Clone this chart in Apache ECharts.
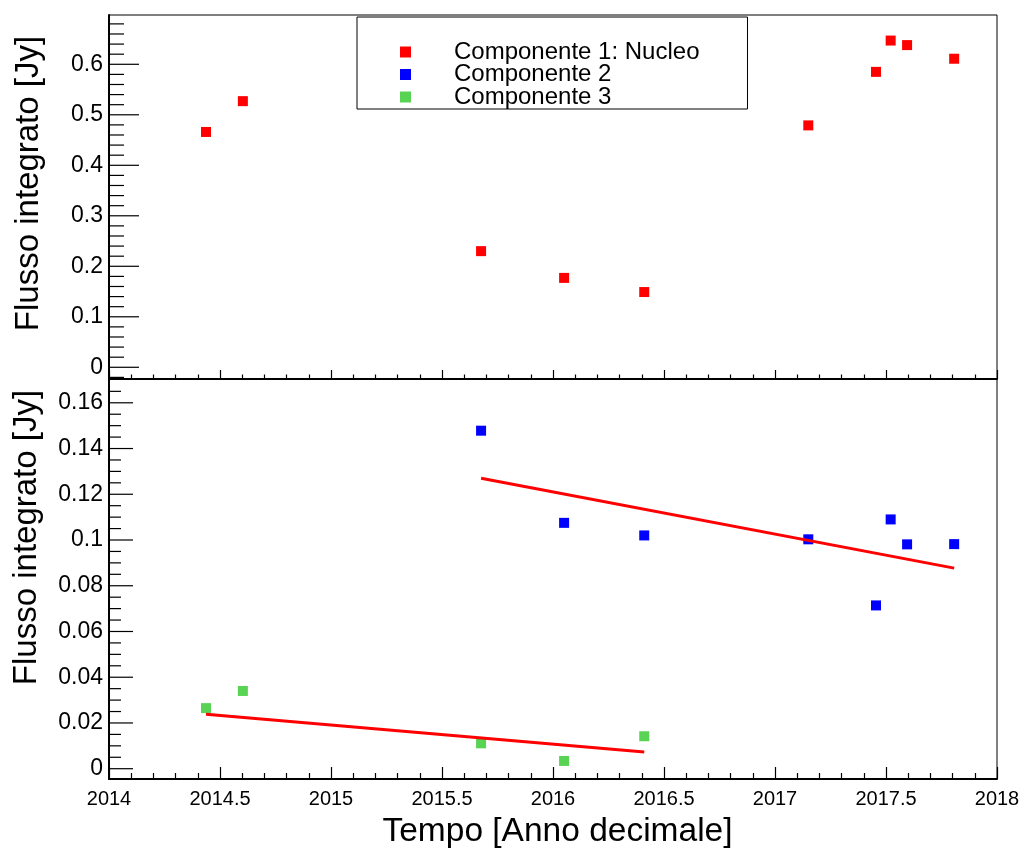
<!DOCTYPE html>
<html>
<head>
<meta charset="utf-8">
<script src="https://cdn.jsdelivr.net/npm/echarts@6/dist/echarts.min.js"></script>
<style>
html,body{margin:0;padding:0;background:#fff;}
#c{width:1021px;height:848px;}
</style>
</head>
<body>
<div id="c"></div>
<script>
// ---- data ----
var years = [2014.437, 2014.603, 2015.676, 2016.050, 2016.411, 2017.150, 2017.455, 2017.521, 2017.595, 2017.807];
var comp1 = [0.466, 0.527, 0.230, 0.177, 0.149, 0.479, 0.585, 0.647, 0.638, 0.611];
var years2 = [2015.676, 2016.050, 2016.411, 2017.150, 2017.455, 2017.521, 2017.595, 2017.807];
var comp2 = [0.1478, 0.1075, 0.1020, 0.1003, 0.0714, 0.1090, 0.0981, 0.0982];
var years3 = [2014.437, 2014.603, 2015.676, 2016.050, 2016.411];
var comp3 = [0.0265, 0.0340, 0.0111, 0.0034, 0.0142];
var fit2X = [2015.676, 2017.807];
var fit2Y = [0.1270, 0.0877];
var fit3X = [2014.437, 2016.411];
var fit3Y = [0.0238, 0.0073];
var seriesNames = ['Componente 1: Nucleo', 'Componente 2', 'Componente 3'];
var topMajor = [0, 0.1, 0.2, 0.3, 0.4, 0.5, 0.6];
var topMinor = [-0.02, 0.02, 0.04, 0.06, 0.08, 0.12, 0.14, 0.16, 0.18, 0.22, 0.24, 0.26, 0.28, 0.32, 0.34, 0.36, 0.38, 0.42, 0.44, 0.46, 0.48, 0.52, 0.54, 0.56, 0.58, 0.62, 0.64, 0.66, 0.68];
var botMajor = [0, 0.02, 0.04, 0.06, 0.08, 0.1, 0.12, 0.14, 0.16];
var botMinor = [0.005, 0.01, 0.015, 0.025, 0.03, 0.035, 0.045, 0.05, 0.055, 0.065, 0.07, 0.075, 0.085, 0.09, 0.095, 0.105, 0.11, 0.115, 0.125, 0.13, 0.135, 0.145, 0.15, 0.155, 0.165];
var yTitle = 'Flusso integrato [Jy]';
var xTitle = 'Tempo [Anno decimale]';
var X_MIN = 2014, X_MAX = 2018;

function zip(a, b) { return a.map(function (v, i) { return [v, b[i]]; }); }

var FONT = '"Liberation Sans", Arial, Helvetica, sans-serif';
var RED = '#ff0000', BLUE = '#0000ff', GREEN = '#59d354';

var chart = echarts.init(document.getElementById('c'), null, {renderer: 'canvas'});

function xAxisDef(gi, showLabel, tickLen) {
  return {
    type: 'value', gridIndex: gi, min: X_MIN, max: X_MAX, interval: 0.5, position: 'bottom',
    axisLine: {show: true, onZero: false, lineStyle: {color: '#000', width: 2}},
    axisTick: {show: true, inside: true, length: tickLen, lineStyle: {color: '#000', width: 1.2}},
    minorTick: {show: true, splitNumber: 5, length: tickLen / 2, lineStyle: {color: '#000', width: 1.2}},
    splitLine: {show: false},
    axisLabel: {show: showLabel, color: '#000', fontFamily: FONT, fontSize: 20, margin: 10,
      showMinLabel: true, showMaxLabel: true,
      formatter: function (v) { return String(v); }}
  };
}
function yAxisDef(gi, min, max, vals) {
  return {
    type: 'value', gridIndex: gi, min: min, max: max, position: 'left',
    axisLine: {show: true, onZero: false, lineStyle: {color: '#000', width: 2}},
    axisTick: {show: false},
    axisLabel: {show: true, customValues: vals, color: '#000', fontFamily: FONT, fontSize: 23, margin: 6},
    splitLine: {show: false}
  };
}
// y-axis tick marks drawn through the axis scale (one series per tick length)
function tickSeries(xi, yi, vals, len) {
  return {
    type: 'custom', xAxisIndex: xi, yAxisIndex: yi, silent: true, z: 5, clip: false,
    encode: {x: 0, y: 1},
    data: vals.map(function (v) { return [X_MIN, v]; }),
    renderItem: function (params, api) {
      var p = api.coord([api.value(0), api.value(1)]);
      return {type: 'line', shape: {x1: p[0], y1: p[1], x2: p[0] + len, y2: p[1]},
        style: {stroke: '#000', lineWidth: 1.2}};
    }
  };
}

var option = {
  animation: false,
  backgroundColor: '#fff',
  grid: [
    {left: 109, top: 15, width: 888, height: 364, show: true, borderColor: '#000', borderWidth: 1,
      backgroundColor: 'transparent', containLabel: false, outerBoundsMode: 'none'},
    {left: 109, top: 379, width: 888, height: 400, show: true, borderColor: '#000', borderWidth: 1,
      backgroundColor: 'transparent', containLabel: false, outerBoundsMode: 'none'}
  ],
  xAxis: [xAxisDef(0, false, 9), xAxisDef(1, true, 12)],
  yAxis: [
    yAxisDef(0, -0.0232, 0.6976, topMajor),
    yAxisDef(1, -0.0045, 0.1704, botMajor)
  ],
  legend: {
    data: seriesNames,
    orient: 'vertical',
    left: 357, top: 17,
    padding: [23, 48, 0, 43],
    itemGap: -1.5,
    itemWidth: 11, itemHeight: 11,
    icon: 'rect',
    selectedMode: false,
    borderColor: '#000', borderWidth: 1,
    backgroundColor: '#fff',
    textStyle: {color: '#000', fontFamily: FONT, fontSize: 24, padding: [0, 0, 0, 38]}
  },
  graphic: [
    {type: 'text', x: 29, y: 183.5, rotation: Math.PI / 2,
      style: {text: yTitle, fill: '#000', font: '33px ' + FONT, textAlign: 'center', textVerticalAlign: 'middle'}},
    {type: 'text', x: 27, y: 537.5, rotation: Math.PI / 2,
      style: {text: yTitle, fill: '#000', font: '33px ' + FONT, textAlign: 'center', textVerticalAlign: 'middle'}},
    {type: 'text', x: 557.5, y: 832,
      style: {text: xTitle, fill: '#000', font: '33.5px ' + FONT, textAlign: 'center', textVerticalAlign: 'middle'}}
  ],
  series: [
    {name: seriesNames[0], type: 'scatter', xAxisIndex: 0, yAxisIndex: 0, symbol: 'rect', symbolSize: 10,
      itemStyle: {color: RED, opacity: 1}, data: zip(years, comp1), z: 3},
    {name: seriesNames[1], type: 'scatter', xAxisIndex: 1, yAxisIndex: 1, symbol: 'rect', symbolSize: 10,
      itemStyle: {color: BLUE, opacity: 1}, data: zip(years2, comp2), z: 3},
    {name: seriesNames[2], type: 'scatter', xAxisIndex: 1, yAxisIndex: 1, symbol: 'rect', symbolSize: 10,
      itemStyle: {color: GREEN, opacity: 1}, data: zip(years3, comp3), z: 3},
    {name: 'fit2', type: 'line', xAxisIndex: 1, yAxisIndex: 1, showSymbol: false, symbol: 'none',
      lineStyle: {color: RED, width: 3}, data: zip(fit2X, fit2Y), z: 4},
    {name: 'fit3', type: 'line', xAxisIndex: 1, yAxisIndex: 1, showSymbol: false, symbol: 'none',
      lineStyle: {color: RED, width: 3}, data: zip(fit3X, fit3Y), z: 4},
    tickSeries(0, 0, topMajor, 30),
    tickSeries(0, 0, topMinor, 15),
    tickSeries(1, 1, botMajor, 24),
    tickSeries(1, 1, botMinor, 12)
  ]
};
chart.setOption(option);
</script>
</body>
</html>
